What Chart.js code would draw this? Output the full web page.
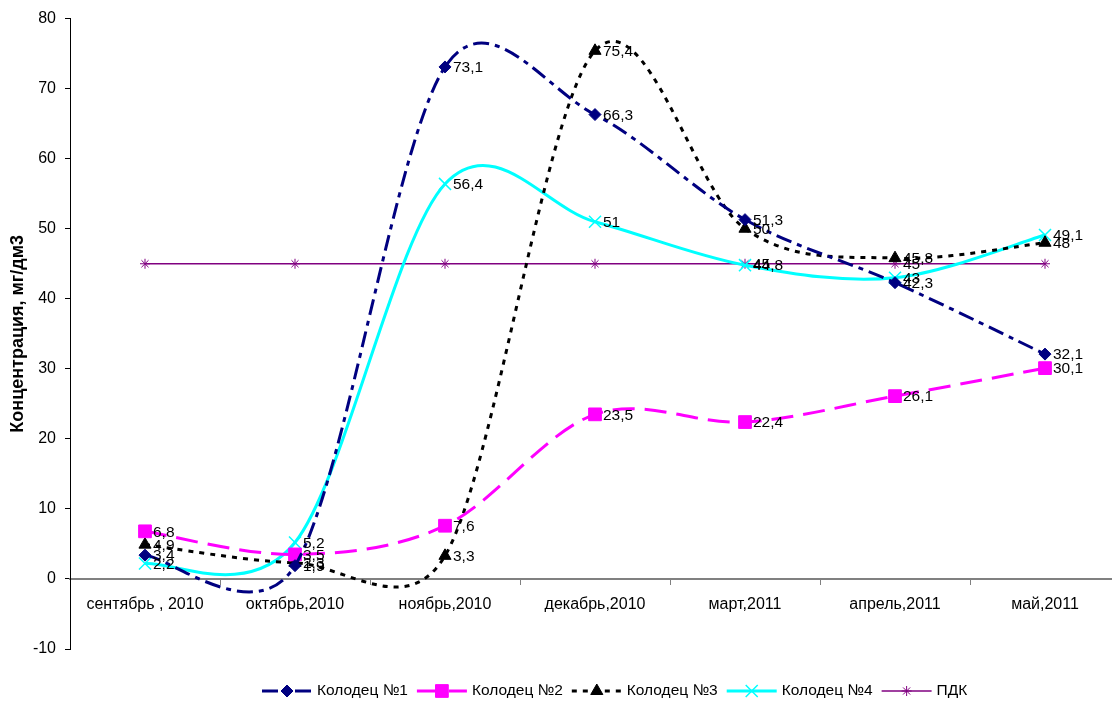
<!DOCTYPE html>
<html lang="ru">
<head>
<meta charset="utf-8">
<title>Концентрация по колодцам</title>
<script src="https://cdn.jsdelivr.net/npm/chart.js@4.4.1/dist/chart.umd.min.js"></script>
<style>
  html, body { margin: 0; padding: 0; background: #fff; overflow: hidden; }
  #wrap { width: 1130px; height: 704px; }
</style>
</head>
<body>
<div id="wrap"><canvas id="chart" width="1130" height="704"></canvas></div>
<script>
// Months of sampling
const categories = ['сентябрь , 2010', 'октябрь,2010', 'ноябрь,2010', 'декабрь,2010', 'март,2011', 'апрель,2011', 'май,2011'];

// Concentration per well, mg/dm3
const well1 = [3.4, 1.9, 73.1, 66.3, 51.3, 42.3, 32.1];
const well2 = [6.8, 3.5, 7.6, 23.5, 22.4, 26.1, 30.1];
const well3 = [4.9, 2.3, 3.3, 75.4, 50, 45.8, 48];
const well4 = [2.2, 5.2, 56.4, 51, 44.8, 43, 49.1];
// Maximum permissible concentration
const pdk = [45, 45, 45, 45, 45, 45, 45];
const pdkLabelled = [false, false, false, false, true, true, false];

const yTicks = { min: -10, max: 80, step: 10 };
const yTitle = 'Концентрация, мг/дм3';

const FONT = 'Arial, "Liberation Sans", sans-serif';

function fmt(v) { return String(v).replace('.', ','); }

// Smooth curves: Catmull-Rom control arms, each limited to half of its segment
const smoothPlugin = {
  id: 'smooth',
  beforeDatasetDraw(chart, args) {
    const meta = args.meta;
    const ds = chart.data.datasets[args.index];
    if (!ds.smooth) return;
    const pts = meta.data;
    const n = pts.length;
    const limit = (vx, vy, seg) => {
      const len = Math.hypot(vx, vy);
      const max = 0.5 * seg;
      return len > max && len > 0 ? [vx * max / len, vy * max / len] : [vx, vy];
    };
    for (let i = 0; i < n; i++) {
      const p = pts[i];
      const prev = pts[Math.max(0, i - 1)];
      const next = pts[Math.min(n - 1, i + 1)];
      const dx = (next.x - prev.x) / 6;
      const dy = (next.y - prev.y) / 6;
      const a = limit(dx, dy, Math.hypot(p.x - prev.x, p.y - prev.y));
      const b = limit(dx, dy, Math.hypot(next.x - p.x, next.y - p.y));
      p.cp1x = p.x - a[0]; p.cp1y = p.y - a[1];
      p.cp2x = p.x + b[0]; p.cp2y = p.y + b[1];
    }
    meta.dataset._pointsUpdated = true;
    meta.dataset._path = undefined;
  }
};

// Value labels to the right of each point
const valueLabels = {
  id: 'valueLabels',
  afterDatasetsDraw(chart) {
    const ctx = chart.ctx;
    ctx.save();
    ctx.font = '15.5px ' + FONT;
    ctx.fillStyle = '#000';
    ctx.textAlign = 'left';
    ctx.textBaseline = 'middle';
    chart.data.datasets.forEach((ds, di) => {
      const meta = chart.getDatasetMeta(di);
      meta.data.forEach((pt, i) => {
        if (ds.labelMask && !ds.labelMask[i]) return;
        ctx.fillText(fmt(ds.data[i]), pt.x + 8, pt.y + 1);
      });
    });
    ctx.restore();
  }
};

// Axis title on the left
const axisTitle = {
  id: 'axisTitle',
  afterDraw(chart) {
    const ctx = chart.ctx;
    const area = chart.chartArea;
    ctx.save();
    ctx.translate(18, (area.top + area.bottom) / 2);
    ctx.rotate(-Math.PI / 2);
    ctx.font = 'bold 18px ' + FONT;
    ctx.fillStyle = '#000';
    ctx.textAlign = 'center';
    ctx.textBaseline = 'middle';
    ctx.fillText(yTitle, 0, 0);
    ctx.restore();
  }
};

// Legend row at the bottom: line sample with marker, then the name
const bottomLegend = {
  id: 'bottomLegend',
  afterDraw(chart) {
    const ctx = chart.ctx;
    const y = 691;
    let x = 262;
    const sample = 50;
    ctx.save();
    ctx.font = '15.5px ' + FONT;
    chart.data.datasets.forEach(ds => {
      ctx.save();
      ctx.strokeStyle = ds.borderColor;
      ctx.lineWidth = ds.borderWidth;
      ctx.setLineDash(ds.borderDash || []);
      ctx.beginPath();
      ctx.moveTo(x, y);
      ctx.lineTo(x + sample, y);
      ctx.stroke();
      ctx.setLineDash([]);
      ctx.fillStyle = ds.pointBackgroundColor;
      ctx.strokeStyle = ds.pointBorderColor;
      ctx.lineWidth = ds.pointBorderWidth;
      Chart.helpers.drawPoint(ctx, {
        pointStyle: ds.pointStyle, radius: ds.pointRadius, rotation: 0,
        borderWidth: ds.pointBorderWidth
      }, x + sample / 2, y);
      ctx.restore();
      ctx.fillStyle = '#000';
      ctx.textAlign = 'left';
      ctx.textBaseline = 'middle';
      const tx = x + sample + 5;
      ctx.fillText(ds.label, tx, y);
      x = tx + ctx.measureText(ds.label).width + 9;
    });
    ctx.restore();
  }
};

function series(label, data, color, dash, width, style, radius, extra) {
  return Object.assign({
    label, data,
    borderColor: color,
    backgroundColor: color,
    borderWidth: width,
    borderDash: dash,
    pointStyle: style,
    pointRadius: radius,
    pointHoverRadius: radius,
    pointBackgroundColor: color,
    pointBorderColor: color,
    pointBorderWidth: 1,
    tension: 0.4,
    capBezierPoints: false,
    fill: false,
    smooth: true,
    clip: false
  }, extra || {});
}

const datasets = [
  series('Колодец №1', well1, '#000080', [16, 6, 5, 6], 3, 'rectRot', 6),
  series('Колодец №2', well2, '#FF00FF', [22, 10], 3, 'rect', 9),
  series('Колодец №3', well3, '#000000', [5, 6], 3, 'triangle', 7),
  series('Колодец №4', well4, '#00FFFF', [], 3, 'crossRot', 8.5, { pointBorderWidth: 1.5 }),
  series('ПДК', pdk, '#800080', [], 1.5, 'star', 5, { tension: 0, smooth: false, labelMask: pdkLabelled })
];

new Chart(document.getElementById('chart'), {
  type: 'line',
  data: { labels: categories, datasets },
  options: {
    responsive: false,
    animation: false,
    events: [],
    layout: { padding: { left: 0, right: 0, top: 17, bottom: 55 } },
    plugins: {
      legend: { display: false },
      title: { display: false },
      tooltip: { enabled: false }
    },
    scales: {
      x: {
        type: 'category',
        position: { y: 0 },
        offset: true,
        grid: {
          display: true, drawOnChartArea: false, drawTicks: true,
          tickLength: 5, color: '#808080', offset: true
        },
        border: { display: true, color: '#808080', width: 2 },
        ticks: {
          color: '#000', font: { family: FONT, size: 16 }, padding: 11,
          maxRotation: 0, autoSkip: false
        }
      },
      y: {
        min: yTicks.min, max: yTicks.max,
        afterFit(scale) { scale.width = 70; },
        grid: {
          display: true, drawOnChartArea: false, drawTicks: true,
          tickLength: 5, color: '#000'
        },
        border: { display: true, color: '#000', width: 1 },
        ticks: {
          stepSize: yTicks.step, color: '#000',
          font: { family: FONT, size: 16 }, padding: 9
        }
      }
    }
  },
  plugins: [smoothPlugin, valueLabels, axisTitle, bottomLegend]
});
</script>
</body>
</html>
